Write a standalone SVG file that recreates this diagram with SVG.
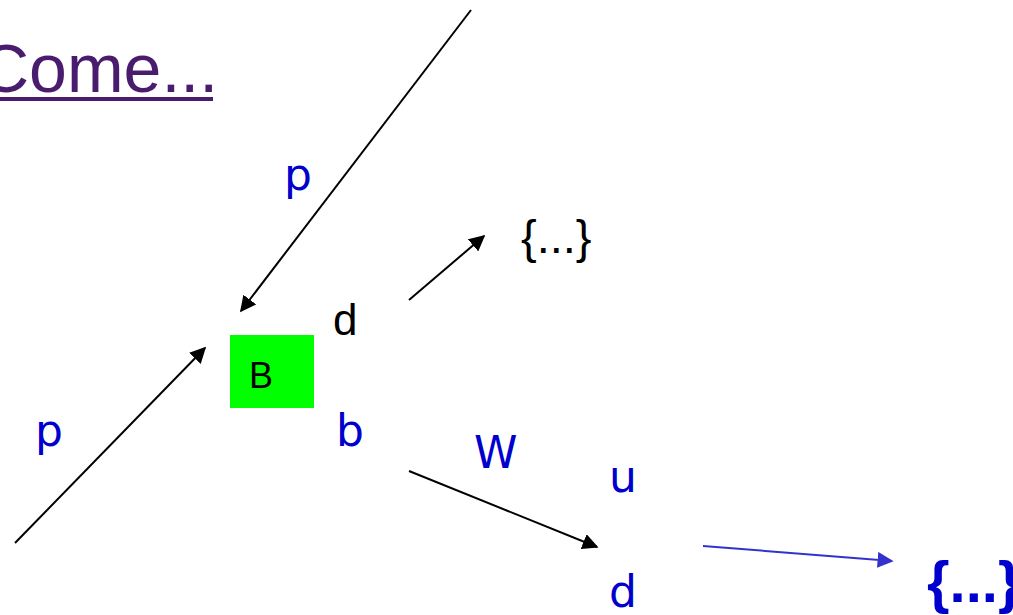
<svg xmlns="http://www.w3.org/2000/svg" width="1013" height="615" viewBox="0 0 1013 615">
<style>
.lbl{font-family:"DejaVu Sans","Noto Sans",sans-serif;fill:#0000CC;font-size:44px}
.blk{font-family:"Liberation Sans",Arial,sans-serif;fill:#000}
.ln{stroke:#000;stroke-width:2;fill:none}
</style>
<defs>
<marker id="ahb" viewBox="0 0 10 10" refX="9" refY="5" markerWidth="16" markerHeight="16" markerUnits="userSpaceOnUse" orient="auto"><path d="M0,0 L10,5 L0,10 z" fill="#3333CC"/></marker>
<marker id="ahk" viewBox="0 0 10 10" refX="9" refY="5" markerWidth="16" markerHeight="16" markerUnits="userSpaceOnUse" orient="auto"><path d="M0,0 L10,5 L0,10 z" fill="#000"/></marker>
</defs>
<rect width="1013" height="615" fill="#fff"/>
<g id="title">
<text x="-20" y="92" font-family="Liberation Sans,Arial,sans-serif" font-size="68" fill="#4A1C6E">Come...</text>
<rect x="0" y="97" width="213" height="4" fill="#4A1C6E"/>
</g>
<g id="connectors">
<line class="ln" x1="471" y1="10" x2="241" y2="311" marker-end="url(#ahk)"/>
<line class="ln" x1="15" y1="543" x2="205" y2="348" marker-end="url(#ahk)"/>
<line class="ln" x1="409" y1="300" x2="484" y2="236" marker-end="url(#ahk)"/>
<line class="ln" x1="409" y1="471" x2="597" y2="547" marker-end="url(#ahk)"/>
<line x1="703" y1="546" x2="892" y2="561" stroke="#3333CC" stroke-width="2" marker-end="url(#ahb)"/>
</g>
<g id="nodeB">
<rect x="230" y="335" width="84" height="73" fill="#00FF00"/>
<text class="blk" x="249" y="388" font-size="36">B</text>
</g>
<g id="labels">
<text class="lbl" x="284" y="190">p</text>
<text class="lbl" x="35" y="446">p</text>
<text class="blk" x="333" y="335" font-size="44">d</text>
<text class="lbl" x="336" y="446">b</text>
<text class="lbl" x="474" y="468">W</text>
<text class="lbl" x="609" y="492">u</text>
<text class="lbl" x="609" y="607">d</text>
</g>
<g id="set1"><text class="blk" x="521" y="253" font-size="47">{...}</text></g>
<g id="set2"><text x="927" y="602" font-family="Liberation Sans,Arial,sans-serif" font-weight="bold" font-size="58" fill="#0000CC">{...}</text></g>
</svg>
